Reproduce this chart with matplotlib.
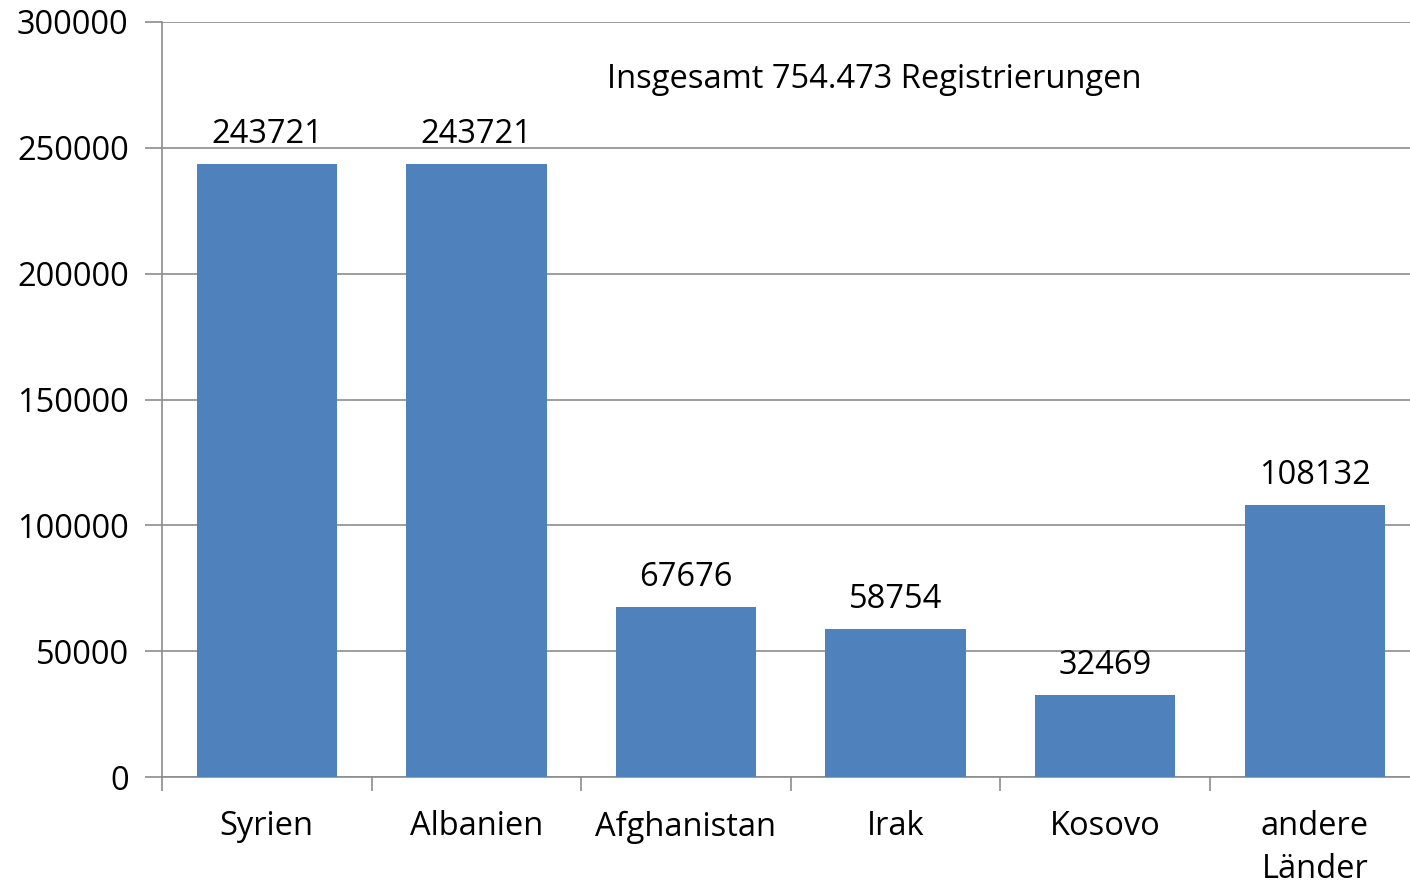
import matplotlib.pyplot as plt
from matplotlib.ticker import FixedLocator

# values
countries = ['Syrien', 'Albanien', 'Afghanistan', 'Irak', 'Kosovo', 'andere\nLänder']
registrations = [243721, 243721, 67676, 58754, 32469, 108132]
yticks = [0, 50000, 100000, 150000, 200000, 250000, 300000]
note = 'Insgesamt 754.473 Registrierungen'

plt.rcParams['font.family'] = ['Open Sans', 'DejaVu Sans']
fs = 23.5

fig = plt.figure(figsize=(14.1, 8.85), dpi=100)
# the plot area runs a little past the right edge of the picture, as in the original
ax = fig.add_axes([162 / 1410, 1 - 777 / 885, 1257.6 / 1410, (777 - 22) / 885])

x = list(range(len(countries)))
bars = ax.bar(x, registrations, width=0.67, color='#4F81BD', zorder=3)
for b, v in zip(bars, registrations):
    ax.text(b.get_x() + b.get_width() / 2, v + 8300, str(v),
            ha='center', va='baseline', fontsize=fs, color='black')

ax.set_xlim(-0.5, len(countries) - 0.5)
ax.set_ylim(0, 300000)
ax.set_yticks(yticks)
ax.set_yticklabels([str(t) for t in yticks], fontsize=fs)
ax.yaxis.grid(True, color='#8c8c8c', linewidth=1.2, zorder=0)

ax.set_xticks(x)
ax.set_xticklabels(countries, fontsize=fs, linespacing=1.38)
ax.tick_params(axis='x', length=0, pad=24)
ax.xaxis.set_minor_locator(FixedLocator([i - 0.5 for i in range(len(countries) + 1)]))
ax.tick_params(axis='x', which='minor', length=10, color='#8c8c8c', width=1.2)
ax.tick_params(axis='y', length=12, color='#8c8c8c', width=1.2, pad=12)

for s in ['top', 'right']:
    ax.spines[s].set_visible(False)
for s in ['left', 'bottom']:
    ax.spines[s].set_color('#8c8c8c')
    ax.spines[s].set_linewidth(1.2)

ax.text(2.9, 277000, note, ha='center', va='center', fontsize=fs)

fig.savefig('out.png', dpi=100)
